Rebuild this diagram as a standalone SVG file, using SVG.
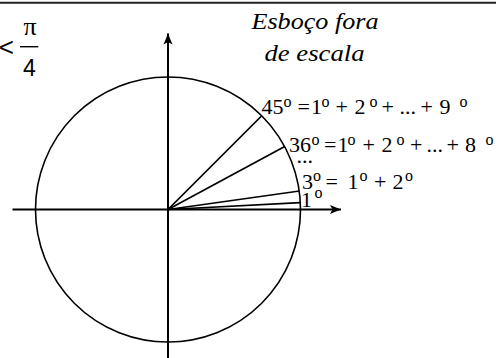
<svg xmlns="http://www.w3.org/2000/svg" width="498" height="358" viewBox="0 0 498 358">
  <defs>
    <marker id="arr" markerUnits="userSpaceOnUse" markerWidth="12" markerHeight="10" viewBox="0 0 12 10" refX="11" refY="5" orient="auto">
      <path d="M0,0.5 L11,5 L0,9.5 L2.5,5 Z" fill="#000"/>
    </marker>
  </defs>
  <rect width="498" height="358" fill="#fff"/>

  <g id="border">
    <line x1="0" y1="2.7" x2="496" y2="2.7" stroke="#222" stroke-width="2"/>
  </g>

  <g id="circle">
    <circle cx="168" cy="209.5" r="132.5" fill="none" stroke="#000" stroke-width="1.6"/>
  </g>

  <g id="connectors" stroke="#000" fill="none">
    <line id="x-axis" x1="12.5" y1="209.5" x2="341" y2="209.5" stroke-width="2" marker-end="url(#arr)"/>
    <line id="y-axis" x1="168" y1="358" x2="168" y2="33.5" stroke-width="2" marker-end="url(#arr)"/>
    <line id="r45" x1="168" y1="209.5" x2="261.5" y2="116" stroke-width="1.7"/>
    <line id="r36" x1="168" y1="209.5" x2="284.7" y2="146.5" stroke-width="1.7"/>
    <line id="r3" x1="168" y1="209.5" x2="299.5" y2="191" stroke-width="1.7"/>
    <line id="r1" x1="168" y1="209.5" x2="300.3" y2="202.7" stroke-width="1.7"/>
  </g>

  <g id="fraction" fill="#000">
    <text x="14" y="56" font-family="Liberation Sans, Arial, sans-serif" font-size="26" text-anchor="end">&lt;</text>
    <text x="30" y="35" font-family="Liberation Serif, Times New Roman, serif" font-size="26" text-anchor="middle">π</text>
    <line x1="20" y1="46.7" x2="38.3" y2="46.7" stroke="#000" stroke-width="1.4"/>
    <text x="29.5" y="76" font-family="Liberation Sans, Arial, sans-serif" font-size="23" text-anchor="middle">4</text>
  </g>

  <g id="title" font-family="Liberation Serif, Times New Roman, serif" font-style="italic" font-size="23" fill="#000">
    <text x="251.5" y="29" textLength="127" lengthAdjust="spacingAndGlyphs">Esboço fora</text>
    <text x="264.5" y="60.5" textLength="100" lengthAdjust="spacingAndGlyphs">de escala</text>
  </g>

  <g id="labels" font-family="Liberation Serif, Times New Roman, serif" font-size="22" fill="#000">
    <g id="label-45">
      <text><tspan x="261.5" y="114">45</tspan><tspan font-size="16" x="283.5" y="107">o</tspan><tspan x="297.5" y="114">=</tspan><tspan x="311" y="114">1</tspan><tspan font-size="16" x="321.5" y="107">o</tspan><tspan x="335.5" y="114">+</tspan><tspan x="354.5" y="114">2</tspan><tspan font-size="16" x="369.5" y="107">o</tspan><tspan x="381.5" y="114">+</tspan><tspan x="399.5" y="114">...</tspan><tspan x="420.5" y="114">+</tspan><tspan x="439.5" y="114">9</tspan><tspan font-size="16" x="459.5" y="107">o</tspan></text>
    </g>
    <g id="label-36">
      <text><tspan x="289" y="152">36</tspan><tspan font-size="16" x="311.5" y="145">o</tspan><tspan x="324" y="152">=</tspan><tspan x="337.5" y="152">1</tspan><tspan font-size="16" x="347.5" y="145">o</tspan><tspan x="362.5" y="152">+</tspan><tspan x="381.5" y="152">2</tspan><tspan font-size="16" x="396.5" y="145">o</tspan><tspan x="410" y="152">+</tspan><tspan x="426.5" y="152">...</tspan><tspan x="446.5" y="152">+</tspan><tspan x="465" y="152">8</tspan><tspan font-size="16" x="485.5" y="145">o</tspan></text>
    </g>
    <g id="label-dots">
      <text x="296.5" y="162.5">...</text>
    </g>
    <g id="label-3">
      <text><tspan x="302" y="188.5">3</tspan><tspan font-size="16" x="313" y="181">o</tspan><tspan x="325.5" y="188.5">=</tspan><tspan x="347.5" y="188.5">1</tspan><tspan font-size="16" x="359.5" y="181">o</tspan><tspan x="374" y="188.5">+</tspan><tspan x="392.5" y="188.5">2</tspan><tspan font-size="16" x="405" y="181">o</tspan></text>
    </g>
    <g id="label-1">
      <text><tspan x="301" y="207">1</tspan><tspan font-size="16" x="314.5" y="197.5">o</tspan></text>
    </g>
  </g>
</svg>
